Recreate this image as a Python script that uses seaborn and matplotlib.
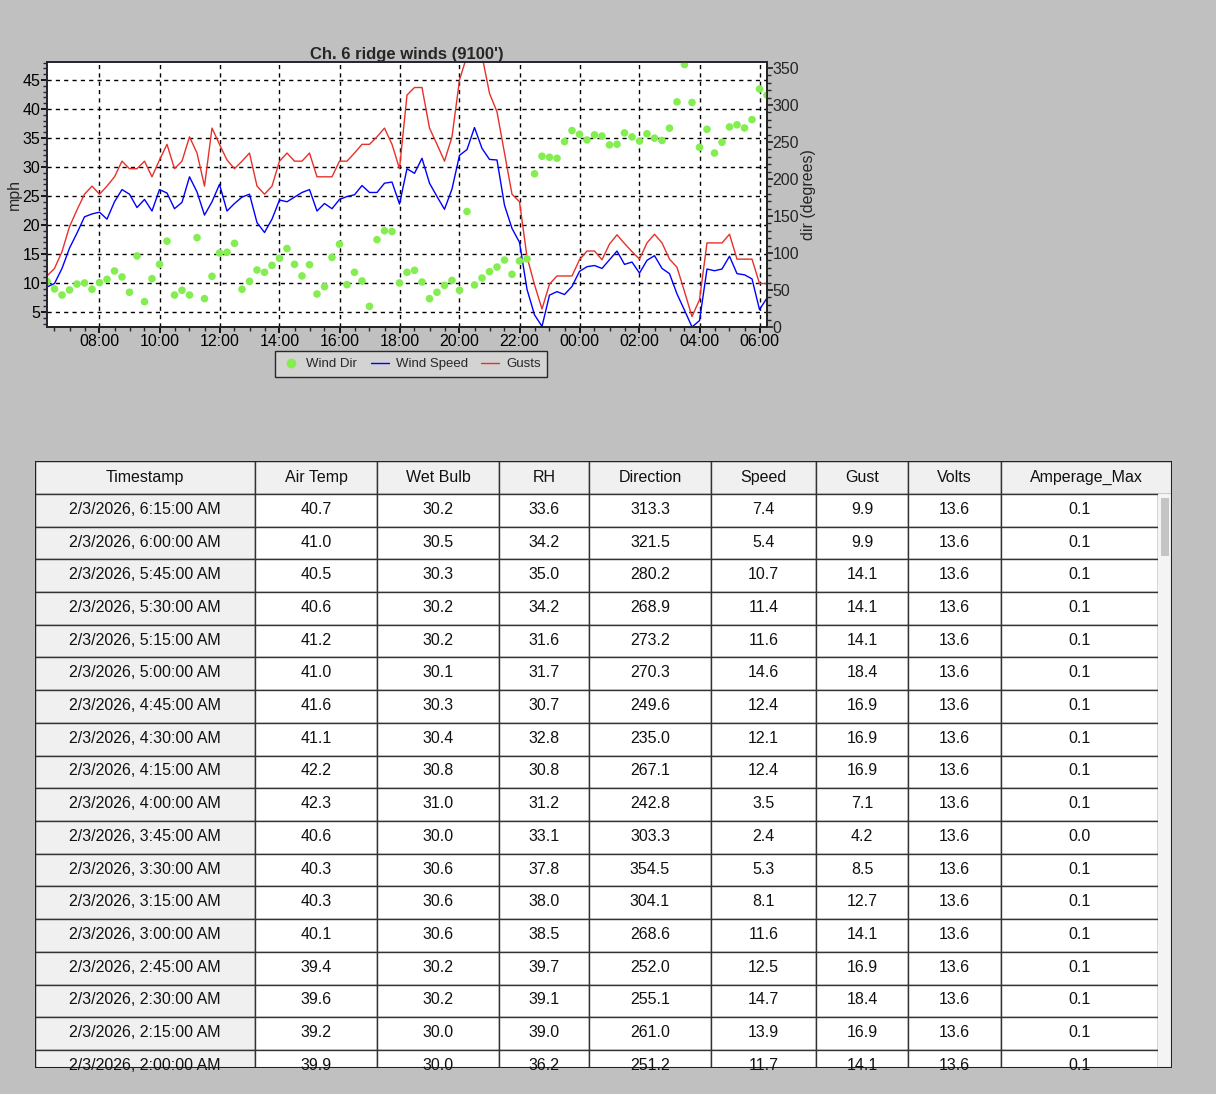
import numpy as np
import pandas as pd
import matplotlib
matplotlib.use("Agg")
import matplotlib.pyplot as plt
import matplotlib.dates as mdates
from matplotlib.lines import Line2D
from matplotlib.patches import Rectangle
import seaborn as sns

sns.set_theme(style="white")
plt.rcParams['font.family'] = ['Liberation Sans', 'DejaVu Sans']

# ---------------- data ----------------
gust_early = [11.2,12.5,15.4,19.7,22.6,25.3,26.7,25.3,26.7,28.3,31.0,29.7,29.7,31.0,28.3,31.2,33.9,29.7,31.0,35.2,
              32.4,26.7,36.7,33.9,31.2,29.7,31.0,32.4,26.7,25.3,26.7,31.0,32.4,31.0,31.0,32.4,28.3,28.3,28.3,31.0,
              31.0,32.4,33.9,33.9,35.2,36.7,33.9,29.7,42.4,43.7,43.7,36.7,33.9,31.0,35.2,45.0,49.2,49.2,49.2,42.7,
              39.5,32.4,25.3,24.0,14.5,9.7,5.5,9.8,11.2,11.2,11.2,14.0,15.5,15.5,14.0,16.7,18.3,16.8,15.4]
speed_early = [9.3,9.9,12.5,16.0,18.6,21.4,21.9,22.2,21.0,24.0,26.1,25.3,23.0,24.4,22.4,26.1,25.5,22.8,23.9,28.3,
               25.7,21.7,24.0,27.0,22.4,23.7,24.8,25.3,20.4,18.7,21.0,24.3,24.0,24.8,25.6,26.1,22.4,23.7,22.8,24.4,
               24.9,25.2,26.8,25.6,25.6,27.2,27.4,23.6,29.7,28.9,31.5,27.2,24.9,22.7,26.2,32.0,33.0,36.8,33.2,31.3,
               31.2,23.4,19.4,17.0,8.9,4.5,2.5,7.9,8.5,8.0,9.4,12.0,12.8,13.0,12.5,14.0,15.5,13.2,13.6]
dir_early = [61.7,51.4,43.2,50,58,59.5,51,60,64.4,75.7,67.6,46.9,96,34.2,65.3,84.7,116,43.2,49.6,43.2,
             120.7,38.3,68.5,100,101,113,51,61.7,77,73.9,83.3,92.8,106,84.7,69,84.2,44.6,54.5,94,112,
             57.2,73.9,62.2,27.9,118,130,129,59.5,73.9,76.6,60.8,38.3,46.9,56.3,63,49.6,156,56.8,66.2,74.8,
             81,90.5,71.2,89.2,92,207,230.7,229.3,228,250.5,265.4,260.4,252.7,259.5,258,246,246.9,262.2,256.8]

# table (newest first)
tbl_time = ["2/3/2026, 6:15:00 AM","2/3/2026, 6:00:00 AM","2/3/2026, 5:45:00 AM","2/3/2026, 5:30:00 AM",
            "2/3/2026, 5:15:00 AM","2/3/2026, 5:00:00 AM","2/3/2026, 4:45:00 AM","2/3/2026, 4:30:00 AM",
            "2/3/2026, 4:15:00 AM","2/3/2026, 4:00:00 AM","2/3/2026, 3:45:00 AM","2/3/2026, 3:30:00 AM",
            "2/3/2026, 3:15:00 AM","2/3/2026, 3:00:00 AM","2/3/2026, 2:45:00 AM","2/3/2026, 2:30:00 AM",
            "2/3/2026, 2:15:00 AM","2/3/2026, 2:00:00 AM"]
tbl_air = [40.7,41.0,40.5,40.6,41.2,41.0,41.6,41.1,42.2,42.3,40.6,40.3,40.3,40.1,39.4,39.6,39.2,39.9]
tbl_wet = [30.2,30.5,30.3,30.2,30.2,30.1,30.3,30.4,30.8,31.0,30.0,30.6,30.6,30.6,30.2,30.2,30.0,30.0]
tbl_rh = [33.6,34.2,35.0,34.2,31.6,31.7,30.7,32.8,30.8,31.2,33.1,37.8,38.0,38.5,39.7,39.1,39.0,36.2]
tbl_dir = [313.3,321.5,280.2,268.9,273.2,270.3,249.6,235.0,267.1,242.8,303.3,354.5,304.1,268.6,252.0,255.1,261.0,251.2]
tbl_speed = [7.4,5.4,10.7,11.4,11.6,14.6,12.4,12.1,12.4,3.5,2.4,5.3,8.1,11.6,12.5,14.7,13.9,11.7]
tbl_gust = [9.9,9.9,14.1,14.1,14.1,18.4,16.9,16.9,16.9,7.1,4.2,8.5,12.7,14.1,16.9,18.4,16.9,14.1]
tbl_volts = [13.6]*18
tbl_amp = [0.1,0.1,0.1,0.1,0.1,0.1,0.1,0.1,0.1,0.1,0.0,0.1,0.1,0.1,0.1,0.1,0.1,0.1]
headers = ["Timestamp","Air Temp","Wet Bulb","RH","Direction","Speed","Gust","Volts","Amperage_Max"]

speed = speed_early + tbl_speed[::-1]
gust = gust_early + tbl_gust[::-1]
wdir = dir_early + tbl_dir[::-1]
times = pd.date_range("2026-02-02 06:15", periods=len(speed), freq="15min")
df = pd.DataFrame({"time": times, "speed": speed, "gust": gust, "dir": wdir})

# ---------------- figure ----------------
W, H = 1216, 1094
fig = plt.figure(figsize=(W/100, H/100), dpi=100)
fig.patch.set_facecolor("#c0c0c0")

ax = fig.add_axes([47/W, 1-327/H, 720/W, 265/H])
ax.set_facecolor("white")
sns.lineplot(data=df, x="time", y="gust", ax=ax, color="#e8302a", lw=1)
sns.lineplot(data=df, x="time", y="speed", ax=ax, color="#0000ff", lw=1)
ax.set_ylim(2.4, 48.1)
ax.set_xlim(times[0], times[-1])
ax.set_yticks(range(5, 50, 5))
ax.yaxis.set_minor_locator(matplotlib.ticker.MultipleLocator(1))
ax.xaxis.set_major_locator(mdates.HourLocator(byhour=range(0, 24, 2)))
ax.xaxis.set_minor_locator(mdates.MinuteLocator(byminute=[0, 30]))
ax.xaxis.set_major_formatter(mdates.DateFormatter("%H:%M"))
ax.grid(True, which="major", color="black", ls=(0, (3, 3)), lw=1)
ax.tick_params(axis="both", which="major", direction="out", length=4, labelsize=11.5, colors="black",
               left=True, bottom=True, pad=1)
ax.tick_params(axis="both", which="minor", direction="out", length=3, left=True, bottom=True)
ax.set_xlabel("")
ax.set_ylabel("mph", fontsize=11.5, labelpad=0)
ax.set_title("Ch. 6 ridge winds (9100')", fontsize=12, fontweight="bold", pad=1)
for s in ["left", "top"]:
    ax.spines[s].set_color("#1010a0")
for s in ["bottom", "right"]:
    ax.spines[s].set_color("black")

ax2 = ax.twinx()
sns.scatterplot(data=df, x="time", y="dir", ax=ax2, color="#84ee50", s=30, edgecolor="none")
ax2.set_ylim(0, 358)
ax2.set_yticks(range(0, 351, 50))
ax2.yaxis.set_minor_locator(matplotlib.ticker.MultipleLocator(10))
ax2.tick_params(axis="y", which="major", direction="out", length=4, labelsize=11.5, right=True, pad=0)
ax2.tick_params(axis="y", which="minor", direction="out", length=3, right=True)
ax2.set_ylabel("dir (degrees)", fontsize=11.5, labelpad=1)
ax2.set_xlabel("")
ax2.grid(False)
ax.set_xlim(times[0], times[-1])

handles = [Line2D([], [], ls="none", marker="o", color="#84ee50", ms=6),
           Line2D([], [], color="#0000ff", lw=1),
           Line2D([], [], color="#e8302a", lw=1)]
leg = fig.legend(handles, ["Wind Dir", "Wind Speed", "Gusts"], ncol=3, loc="center",
                 bbox_to_anchor=(411/W, 1-364/H), fontsize=9.5, frameon=True, fancybox=False,
                 handlelength=1.4, handletextpad=0.5, columnspacing=1.0, borderpad=0.5)
leg.get_frame().set_facecolor("#d8d8d8")
leg.get_frame().set_edgecolor("black")

# ---------------- table ----------------
tx0, tx1, ty0, ty1 = 35, 1172, 461, 1068
at = fig.add_axes([tx0/W, 1-ty1/H, (tx1-tx0)/W, (ty1-ty0)/H])
at.set_xlim(tx0, tx1)
at.set_ylim(ty1, ty0)
at.axis("off")
col_edges = [35, 255, 377, 499, 589, 711, 816, 908, 1001, 1172]
header_h = 33
row_h = 32.7
cols = [tbl_time, tbl_air, tbl_wet, tbl_rh, tbl_dir, tbl_speed, tbl_gust, tbl_volts, tbl_amp]
at.add_patch(Rectangle((tx0, ty0), tx1-tx0, ty1-ty0, facecolor="white", edgecolor="none"))
for j, h in enumerate(headers):
    x0, x1 = col_edges[j], col_edges[j+1]
    at.add_patch(Rectangle((x0, ty0), x1-x0, header_h, facecolor="#f0f0f0", edgecolor="#333333", lw=1))
    at.text((x0+x1)/2, ty0+header_h/2, h, ha="center", va="center", fontsize=11.5, color="#111111")
body_right = 1158
for i in range(len(tbl_time)):
    y = ty0 + header_h + i*row_h
    for j in range(len(headers)):
        x0 = col_edges[j]
        x1 = min(col_edges[j+1], body_right)
        fc = "#f0f0f0" if j == 0 else "white"
        at.add_patch(Rectangle((x0, y), x1-x0, row_h, facecolor=fc, edgecolor="#333333", lw=1))
        v = cols[j][i]
        s = v if isinstance(v, str) else f"{v:.1f}"
        at.text((col_edges[j]+col_edges[j+1])/2 if j < 8 else (x0+x1)/2, y+row_h/2-1, s,
                ha="center", va="center", fontsize=11.5, color="#111111")
# scrollbar
at.add_patch(Rectangle((body_right, ty0+header_h), tx1-body_right, ty1-ty0-header_h, facecolor="#f4f4f4", edgecolor="none"))
at.add_patch(Rectangle((body_right+3, ty0+header_h+4), 8, 58, facecolor="#c4c4c4", edgecolor="none"))
at.add_patch(Rectangle((tx0, ty0), tx1-tx0, ty1-ty0, facecolor="none", edgecolor="#222222", lw=1.5))

fig.savefig("out.png", dpi=100, facecolor=fig.get_facecolor())
